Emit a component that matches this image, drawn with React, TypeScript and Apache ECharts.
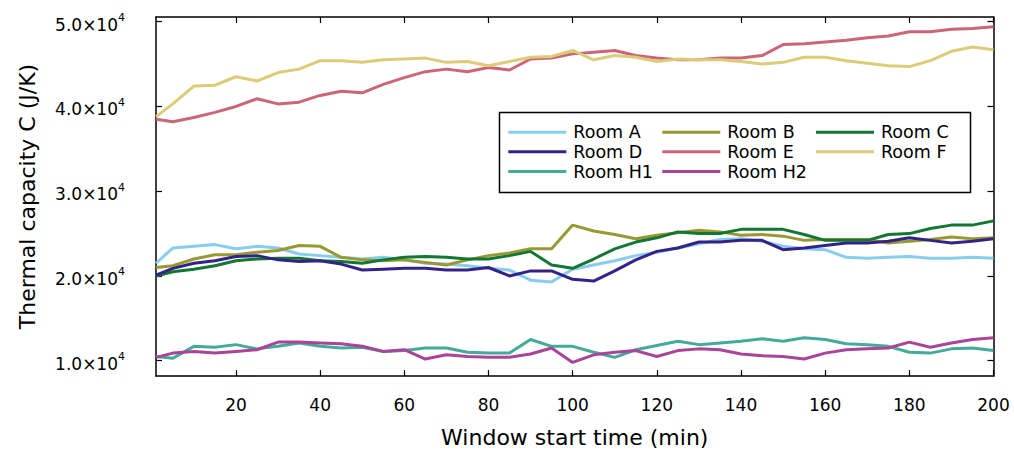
import React, { useEffect, useRef } from "react";
import * as echarts from "echarts";

const times = [1, 5, 10, 15, 20, 25, 30, 35, 40, 45, 50, 55, 60, 65, 70, 75, 80, 85, 90, 95, 100, 105, 110, 115, 120, 125, 130, 135, 140, 145, 150, 155, 160, 165, 170, 175, 180, 185, 190, 195, 200];

const roomA = [21500, 23300, 23500, 23700, 23200, 23500, 23300, 22600, 22400, 22200, 22000, 22200, 21900, 21500, 21400, 21200, 20900, 20700, 19500, 19300, 20800, 21300, 21800, 22400, 22800, 23300, 23800, 24300, 24400, 24100, 23500, 23200, 23100, 22200, 22100, 22200, 22300, 22100, 22100, 22200, 22100];
const roomB = [21000, 21200, 22000, 22500, 22500, 22800, 23000, 23600, 23500, 22200, 21900, 21800, 21900, 21600, 21300, 21900, 22400, 22700, 23200, 23200, 26000, 25300, 24900, 24400, 24800, 25100, 25400, 25200, 24800, 24900, 24700, 24200, 24300, 24300, 24300, 23900, 24100, 24300, 24600, 24400, 24500];
const roomC = [20000, 20500, 20800, 21200, 21800, 22000, 22100, 22100, 21800, 21700, 21500, 21900, 22200, 22300, 22200, 22000, 22000, 22400, 22900, 21300, 20900, 22000, 23200, 24000, 24500, 25200, 25000, 25000, 25500, 25500, 25500, 24900, 24200, 24200, 24200, 24900, 25000, 25600, 26000, 26000, 26500];
const roomD = [20100, 20900, 21500, 21800, 22300, 22400, 21900, 21700, 21800, 21400, 20700, 20800, 20900, 20900, 20700, 20700, 21000, 20000, 20600, 20600, 19600, 19400, 20600, 21900, 22900, 23300, 24000, 24000, 24200, 24200, 23100, 23300, 23600, 23900, 23900, 24100, 24500, 24200, 23900, 24100, 24400];
const roomE = [38500, 38200, 38700, 39300, 40000, 40900, 40300, 40500, 41300, 41800, 41600, 42600, 43400, 44100, 44400, 44100, 44600, 44300, 45600, 45700, 46200, 46400, 46600, 46000, 45700, 45500, 45500, 45700, 45700, 46000, 47300, 47400, 47600, 47800, 48100, 48300, 48800, 48800, 49100, 49200, 49400];
const roomF = [38800, 40300, 42400, 42500, 43500, 43000, 44000, 44400, 45400, 45400, 45200, 45500, 45600, 45700, 45200, 45300, 44800, 45300, 45800, 45900, 46600, 45500, 46000, 45800, 45300, 45600, 45500, 45500, 45300, 45000, 45200, 45800, 45800, 45400, 45100, 44800, 44700, 45400, 46500, 47000, 46700];
const roomH1 = [10500, 10300, 11700, 11600, 11900, 11400, 11700, 12100, 11700, 11500, 11600, 11100, 11200, 11500, 11500, 11000, 10900, 10900, 12500, 11700, 11700, 11000, 10400, 11300, 11800, 12300, 11900, 12100, 12300, 12600, 12300, 12700, 12500, 12000, 11900, 11700, 11000, 10900, 11400, 11500, 11200];
const roomH2 = [10400, 10900, 11100, 10900, 11100, 11300, 12200, 12200, 12100, 12000, 11700, 11100, 11300, 10200, 10700, 10500, 10400, 10400, 10800, 11500, 9800, 10700, 11000, 11200, 10500, 11200, 11400, 11300, 10800, 10600, 10500, 10200, 10900, 11300, 11400, 11500, 12200, 11600, 12100, 12500, 12700];

const seriesNames = ["Room A", "Room B", "Room C", "Room D", "Room E", "Room F", "Room H1", "Room H2"];
const seriesColors = ["#88CCEE", "#999933", "#117733", "#332288", "#CC6677", "#DDCC77", "#44AA99", "#AA4499"];
const xTicks = [20, 40, 60, 80, 100, 120, 140, 160, 180, 200];
const yTicks = [10000, 20000, 30000, 40000, 50000];

const FONT = "DejaVu Sans";

export default function App() {
  const ref = useRef<HTMLDivElement>(null);

  useEffect(() => {
    const chart = echarts.init(ref.current!, null, { renderer: "svg" });
    const allData = [roomA, roomB, roomC, roomD, roomE, roomF, roomH1, roomH2];

    const series = allData.map((vals, i) => ({
      name: seriesNames[i],
      type: "line",
      data: vals.map((v, j) => [times[j], v]),
      showSymbol: false,
      symbol: "none",
      silent: true,
      lineStyle: { color: seriesColors[i], width: 3 },
      itemStyle: { color: seriesColors[i] },
    }));

    const legendCols = [508.3, 662.3, 816];
    const legendRows = [131.7, 151.3, 171];
    const legends = seriesNames.map((n, i) => ({
      data: [n],
      left: legendCols[i % 3],
      top: legendRows[Math.floor(i / 3)] - 8.5,
      padding: 0,
      icon: "rect",
      itemWidth: 58,
      itemHeight: 3,
      selectedMode: false,
      textStyle: { fontSize: 17.5, color: "#000", fontFamily: FONT, padding: [0, 0, 0, 2] },
    }));

    const axisLine = { show: true, onZero: false, lineStyle: { color: "#000", width: 1.5 } };
    const tickStyle = { color: "#000", width: 1.2 };

    chart.setOption({
      animation: false,
      backgroundColor: "#fff",
      grid: { left: 156, right: 20.5, top: 17, bottom: 79, outerBoundsMode: "none", containLabel: false },
      legend: legends,
      graphic: [
        {
          type: "rect",
          shape: { x: 499.5, y: 112.5, width: 471, height: 80 },
          style: { fill: "#fff", stroke: "#000", lineWidth: 1.5 },
          z: 1,
          silent: true,
        },
      ],
      xAxis: [
        {
          type: "value",
          min: 1,
          max: 200,
          position: "bottom",
          axisLine,
          axisTick: { show: true, inside: true, length: 6, customValues: xTicks, lineStyle: tickStyle },
          axisLabel: { customValues: xTicks, margin: 20, fontSize: 17, color: "#000", fontFamily: FONT },
          splitLine: { show: false },
          name: "Window start time (min)",
          nameLocation: "middle",
          nameGap: 50,
          nameTextStyle: { fontSize: 22, color: "#000", fontFamily: FONT },
        },
        {
          type: "value",
          min: 1,
          max: 200,
          position: "top",
          axisLine,
          axisTick: { show: true, inside: true, length: 6, customValues: xTicks, lineStyle: tickStyle },
          axisLabel: { show: false },
          splitLine: { show: false },
        },
      ],
      yAxis: [
        {
          type: "value",
          min: 8200,
          max: 50550,
          position: "left",
          axisLine,
          axisTick: { show: true, inside: true, length: 6, customValues: yTicks, lineStyle: tickStyle },
          axisLabel: {
            customValues: yTicks,
            margin: 31,
            formatter: (v: number) => `{m|${(v / 10000).toFixed(1)}×10}{s|4}`,
            rich: {
              m: { fontSize: 17, color: "#000", fontFamily: FONT, lineHeight: 20, padding: [6, 0, 0, 0] },
              s: { fontSize: 11, color: "#000", fontFamily: FONT, lineHeight: 12, padding: [3, 0, 11, 0] },
            },
          },
          splitLine: { show: false },
          name: "Thermal capacity C (J/K)",
          nameLocation: "middle",
          nameGap: 118,
          nameTextStyle: { fontSize: 22, color: "#000", fontFamily: FONT },
        },
        {
          type: "value",
          min: 8200,
          max: 50550,
          position: "right",
          axisLine,
          axisTick: { show: true, inside: true, length: 6, customValues: yTicks, lineStyle: tickStyle },
          axisLabel: { show: false },
          splitLine: { show: false },
        },
      ],
      series,
    });

    return () => chart.dispose();
  }, []);

  return (
    <div
      ref={ref}
      style={{ position: "fixed", left: 0, top: 0, width: 1014, height: 455, background: "#fff" }}
    />
  );
}
